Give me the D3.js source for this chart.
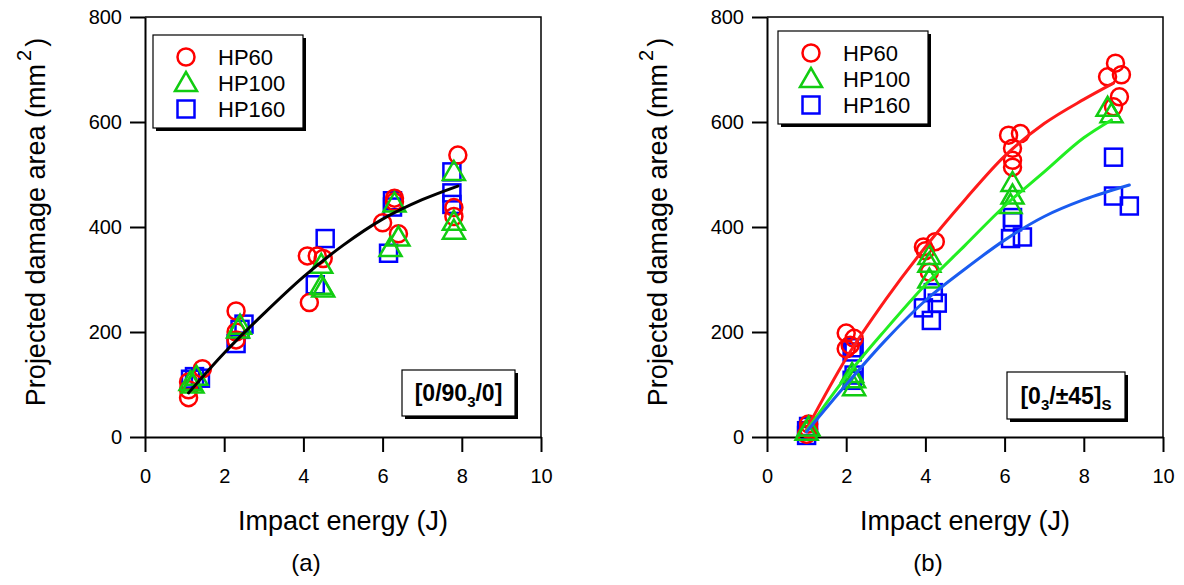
<!DOCTYPE html>
<html>
<head>
<meta charset="utf-8">
<script src="https://cdn.jsdelivr.net/npm/d3@7"></script>
<style>
  body { margin: 0; background: #fff; }
  svg { display: block; }
  text { font-family: "Liberation Sans", Arial, sans-serif; fill: #000; }
</style>
</head>
<body>
<svg id="fig" width="1184" height="585"></svg>
<script>
// ---- shared axis ticks ----
const energyTicks = [0, 2, 4, 6, 8, 10];
const areaTicks = [0, 200, 400, 600, 800];
const seriesNames = ["HP60", "HP100", "HP160"];

// ---- (a) [0/90_3/0] laminate: [impact energy J, projected area mm^2] ----
const crossHP60 = [[1.1, 75], [1.1, 90], [1.1, 105], [1.45, 130], [2.3, 240], [2.3, 200], [2.3, 185],
  [4.1, 345], [4.35, 345], [4.5, 340], [4.15, 256], [6.0, 408], [6.4, 387], [6.3, 455], [6.3, 448],
  [7.8, 437], [7.8, 420], [7.9, 537]];
const crossHP100 = [[1.15, 105], [1.3, 115], [1.2, 100], [2.35, 205], [2.4, 212], [4.45, 328],
  [4.45, 288], [4.5, 283], [6.2, 360], [6.4, 380], [6.3, 445], [7.8, 393], [7.8, 410], [7.8, 505]];
const crossHP160 = [[1.15, 110], [1.25, 115], [1.4, 112], [2.3, 178], [2.5, 215], [2.4, 205],
  [4.55, 378], [4.3, 290], [6.15, 350], [6.25, 450], [6.25, 438], [7.75, 443], [7.75, 465], [7.75, 505]];
const crossFit = [[1.1, 84], [2, 160], [3, 235], [4, 305], [5, 365], [6, 415], [7, 452], [7.9, 478]];

// ---- (b) [0_3/±45]s laminate ----
const angleHP60 = [[1.0, 5], [1.05, 15], [1.05, 25], [2.0, 198], [2.0, 168], [2.2, 188], [2.1, 175],
  [3.95, 362], [4.0, 355], [4.25, 372], [4.1, 314], [6.1, 575], [6.4, 578], [6.2, 550], [6.2, 527],
  [6.2, 514], [8.6, 686], [8.8, 712], [8.95, 690], [8.9, 648], [8.75, 629]];
const angleHP100 = [[1.0, 10], [1.05, 18], [2.2, 95], [2.2, 110], [2.15, 120], [4.1, 345], [4.1, 330],
  [4.1, 300], [6.2, 484], [6.2, 460], [6.15, 442], [8.6, 627], [8.7, 615]];
const angleHP160 = [[1.0, 3], [1.0, 12], [1.05, 20], [2.15, 162], [2.2, 170], [2.2, 118], [2.15, 108],
  [3.95, 246], [4.15, 222], [4.3, 255], [4.2, 275], [6.15, 378], [6.2, 418], [6.2, 410], [6.45, 381],
  [8.75, 533], [8.75, 459], [9.15, 440]];
const angleFitHP60 = [[1.0, 15], [2, 150], [3, 262], [4, 362], [5, 452], [6, 535], [7, 597], [8, 643], [8.75, 674]];
const angleFitHP100 = [[1.0, 12], [2, 115], [3, 205], [4, 290], [5, 365], [6, 440], [7, 505], [8, 570], [8.7, 604]];
const angleFitHP160 = [[1.0, 10], [2, 100], [3, 185], [4, 260], [5, 320], [6, 375], [7, 420], [8, 452], [9.15, 480]];

const markerColor = { HP60: "#ff0000", HP100: "#11cc11", HP160: "#0000ff" };
const lineColor = { HP60: "#ff1a1a", HP100: "#22ee22", HP160: "#1a5cf0" };

const svg = d3.select("#fig");

function drawMarker(g, shape, cx, cy, color) {
  const sw = 2.5;
  if (shape === "HP60") {
    g.append("circle").attr("cx", cx).attr("cy", cy).attr("r", 8.5)
      .attr("fill", "none").attr("stroke", color).attr("stroke-width", sw);
  } else if (shape === "HP100") {
    g.append("path")
      .attr("d", `M${cx},${cy - 11}L${cx - 11},${cy + 8}L${cx + 11},${cy + 8}Z`)
      .attr("fill", "none").attr("stroke", color).attr("stroke-width", sw)
      .attr("stroke-linejoin", "miter");
  } else {
    g.append("rect").attr("x", cx - 8.5).attr("y", cy - 8.5).attr("width", 17).attr("height", 17)
      .attr("fill", "none").attr("stroke", color).attr("stroke-width", sw);
  }
}

function shadowBox(g, x0, y0, x1, y1) {
  g.append("rect").attr("x", x0 + 3).attr("y", y0 + 3).attr("width", x1 - x0).attr("height", y1 - y0)
    .attr("fill", "#000");
  g.append("rect").attr("x", x0).attr("y", y0).attr("width", x1 - x0).attr("height", y1 - y0)
    .attr("fill", "#fff").attr("stroke", "#000").attr("stroke-width", 1.2);
}

function drawPanel(opt) {
  const x = d3.scaleLinear().domain([0, 10]).range([opt.left, opt.left + 396]);
  const y = d3.scaleLinear().domain([0, 800]).range([437, 17]);
  const g = svg.append("g");

  // frame (top and right)
  g.append("path")
    .attr("d", `M${x(0)},${y(800)}H${x(10)}V${y(0)}`)
    .attr("fill", "none").attr("stroke", "#000").attr("stroke-width", 1.5);

  const xAxis = g.append("g").attr("transform", `translate(0,${y(0)})`)
    .call(d3.axisBottom(x).tickValues(energyTicks).tickSize(15).tickSizeOuter(0).tickPadding(17));
  const yAxis = g.append("g").attr("transform", `translate(${x(0)},0)`)
    .call(d3.axisLeft(y).tickValues(areaTicks).tickSize(15).tickSizeOuter(0).tickPadding(8));
  [xAxis, yAxis].forEach(a => {
    a.select(".domain").attr("stroke-width", 2);
    a.selectAll(".tick line").attr("stroke-width", 2);
    a.selectAll(".tick text").attr("font-size", 20)
      .attr("font-family", "'Liberation Sans', Arial, sans-serif");
  });

  // axis titles
  g.append("text").attr("x", (x(0) + x(10)) / 2).attr("y", 530)
    .attr("text-anchor", "middle").attr("font-size", 27).text("Impact energy (J)");
  const yt = g.append("text")
    .attr("transform", `translate(${x(0) - 100},222) rotate(-90)`)
    .attr("text-anchor", "middle").attr("font-size", 27);
  yt.append("tspan").text("Projected damage area (mm");
  yt.append("tspan").attr("dy", -14).attr("dx", 3).attr("font-size", 20).text("2");
  yt.append("tspan").attr("dy", 14).attr("dx", 3).text(")");

  // sub-figure tag
  g.append("text").attr("x", x(0) + 161).attr("y", 571).attr("text-anchor", "middle")
    .attr("font-family", "'Noto Sans', 'Open Sans', sans-serif").attr("font-size", 24).text(opt.tag);

  // data markers
  const mg = g.append("g");
  ["HP160", "HP60", "HP100"].forEach(name => {
    opt.data[name].forEach(d => drawMarker(mg, name, x(d[0]), y(d[1]), markerColor[name]));
  });

  // fitted trends
  const line = d3.line().x(d => x(d[0])).y(d => y(d[1])).curve(d3.curveMonotoneX);
  opt.fits.forEach(f => {
    g.append("path").attr("d", line(f.pts)).attr("fill", "none")
      .attr("stroke", f.color).attr("stroke-width", 3).attr("stroke-linecap", "round");
  });

  // legend
  const lg = g.append("g");
  const lx = opt.legend[0], ly = opt.legend[1];
  if (opt.legendBox) shadowBox(lg, lx, ly, lx + 150, ly + 93);
  seriesNames.forEach((name, i) => {
    const cy = ly + 22 + i * 26;
    drawMarker(lg, name, lx + 33, cy, markerColor[name]);
    lg.append("text").attr("x", lx + 65).attr("y", cy + 7.5).attr("font-size", 22).text(name);
  });

  // layup label
  const b = opt.layupBox;
  shadowBox(g, b[0], b[1], b[2], b[3]);
  const lt = g.append("text").attr("x", (b[0] + b[2]) / 2).attr("y", (b[1] + b[3]) / 2 + 8)
    .attr("text-anchor", "middle").attr("font-size", 23).attr("font-weight", "bold");
  opt.layup.forEach(p => {
    const t = lt.append("tspan").text(p.t);
    if (p.sub) t.attr("font-size", 15).attr("dy", 6);
    if (p.up) t.attr("dy", -6);
  });
}

drawPanel({
  left: 145, tag: "(a)",
  data: { HP60: crossHP60, HP100: crossHP100, HP160: crossHP160 },
  fits: [{ pts: crossFit, color: "#000" }],
  legend: [153, 35], legendBox: true,
  layupBox: [402, 370, 515, 416],
  layup: [{ t: "[0/90" }, { t: "3", sub: true }, { t: "/0]", up: true }]
});

drawPanel({
  left: 767, tag: "(b)",
  data: { HP60: angleHP60, HP100: angleHP100, HP160: angleHP160 },
  fits: [
    { pts: angleFitHP60, color: lineColor.HP60 },
    { pts: angleFitHP100, color: lineColor.HP100 },
    { pts: angleFitHP160, color: lineColor.HP160 }
  ],
  legend: [778, 31], legendBox: true,
  layupBox: [1007, 372, 1125, 419],
  layup: [{ t: "[0" }, { t: "3", sub: true }, { t: "/±45]", up: true }, { t: "S", sub: true }]
});
</script>
</body>
</html>
